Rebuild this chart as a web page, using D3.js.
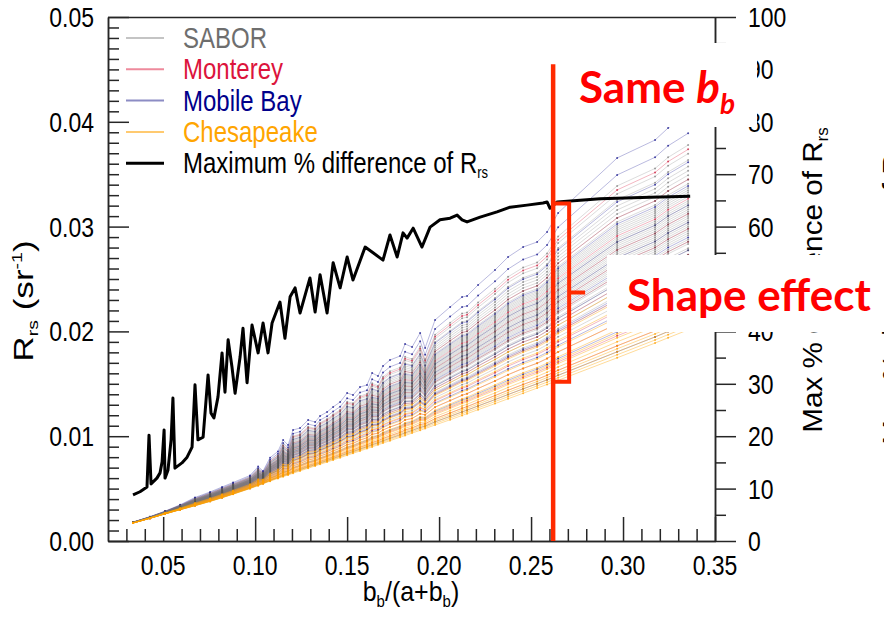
<!DOCTYPE html>
<html>
<head>
<meta charset="utf-8">
<script src="https://cdn.jsdelivr.net/npm/d3@7"></script>
<style>
  html, body { margin: 0; padding: 0; background: #fff; }
  svg { display: block; font-family: "Liberation Sans", Arial, Helvetica, sans-serif; }
</style>
</head>
<body>
<svg id="chart" width="884" height="620"></svg>
<script>
// bb/(a+bb) values at which every spectrum is sampled
const uNodes = [
  0.0336, 0.0428, 0.0510, 0.0592, 0.0673, 0.0755, 0.0820, 0.0880, 0.0972, 0.1016,
  0.1043, 0.1081, 0.1124, 0.1152, 0.1179, 0.1206, 0.1244, 0.1288, 0.1326, 0.1353,
  0.1391, 0.1424, 0.1462, 0.1500, 0.1532, 0.1570, 0.1608, 0.1636, 0.1668, 0.1695,
  0.1733, 0.1788, 0.1815, 0.1853, 0.1897, 0.1924, 0.1978, 0.2060, 0.2125, 0.2152,
  0.2212, 0.2304, 0.2375, 0.2457, 0.2533, 0.2587, 0.2647, 0.2968, 0.3174, 0.3245,
  0.3354
];
// lowest Rrs (sr^-1) reached at each node
const rrsLow = [
  0.00171, 0.00216, 0.00258, 0.00298, 0.00336, 0.00377, 0.00412, 0.00446, 0.00500, 0.00528,
  0.00546, 0.00571, 0.00597, 0.00614, 0.00630, 0.00647, 0.00669, 0.00694, 0.00716, 0.00732,
  0.00753, 0.00773, 0.00795, 0.00818, 0.00837, 0.00859, 0.00882, 0.00898, 0.00918, 0.00934,
  0.00957, 0.00990, 0.01006, 0.01030, 0.01056, 0.01073, 0.01107, 0.01157, 0.01198, 0.01215,
  0.01253, 0.01311, 0.01357, 0.01410, 0.01459, 0.01494, 0.01533, 0.01748, 0.01889, 0.01939,
  0.02015
];
// highest Rrs (sr^-1) reached at each node
const rrsHigh = [
  0.00181, 0.00232, 0.00285, 0.00345, 0.00415, 0.00468, 0.00515, 0.00558, 0.00625, 0.00710,
  0.00668, 0.00795, 0.00855, 0.00964, 0.00916, 0.01059, 0.01078, 0.01155, 0.01135, 0.01193,
  0.01231, 0.01279, 0.01326, 0.01412, 0.01393, 0.01469, 0.01489, 0.01603, 0.01574, 0.01670,
  0.01727, 0.01765, 0.01880, 0.01851, 0.01985, 0.01842, 0.02109, 0.02233, 0.02328, 0.02338,
  0.02443, 0.02586, 0.02710, 0.02805, 0.02853, 0.02948, 0.03130, 0.03655, 0.03826, 0.03941,
  0.04065
];

// position of each particle population between the low (0) and high (1) Rrs curves
const saborSpread = [
  0.26, 0.29, 0.31, 0.33, 0.35, 0.37, 0.38, 0.40, 0.41, 0.42,
  0.44, 0.45, 0.46, 0.47, 0.48, 0.49, 0.50, 0.51, 0.52, 0.53,
  0.54, 0.55, 0.56, 0.57, 0.58, 0.59, 0.60, 0.62, 0.63, 0.64,
  0.65, 0.66, 0.68, 0.70, 0.72, 0.74, 0.76, 0.79, 0.82, 0.86
];
const montereySpread = [0.06, 0.11, 0.17, 0.23, 0.29, 0.35, 0.41, 0.47, 0.54, 0.61, 0.70, 0.84];
const mobileBaySpread = [0.03, 0.13, 0.21, 0.30, 0.37, 0.43, 0.50, 0.58, 0.67, 0.78, 0.915, 1.0];
const chesapeakeSpread = [0.0, 0.015, 0.03, 0.045, 0.06, 0.08, 0.10, 0.12, 0.14, 0.17, 0.20, 0.24, 0.28, 0.33];

// maximum % difference of Rrs across populations
const maxDiffU = [
  0.0336, 0.0374, 0.0412, 0.0423, 0.0434, 0.0466, 0.0483, 0.0494, 0.0505, 0.0510,
  0.0526, 0.0543, 0.0553, 0.0564, 0.0602, 0.0630, 0.0657, 0.0673, 0.0689, 0.0717,
  0.0744, 0.0760, 0.0776, 0.0798, 0.0820, 0.0836, 0.0853, 0.0874, 0.0891, 0.0918,
  0.0934, 0.0956, 0.0983, 0.1016, 0.1043, 0.1070, 0.1092, 0.1135, 0.1162, 0.1190,
  0.1217, 0.1244, 0.1298, 0.1326, 0.1353, 0.1391, 0.1424, 0.1462, 0.1500, 0.1532,
  0.1598, 0.1641, 0.1695, 0.1733, 0.1772, 0.1804, 0.1826, 0.1859, 0.1907, 0.1951,
  0.2005, 0.2060, 0.2098, 0.2125, 0.2152, 0.2223, 0.2315, 0.2386, 0.2478, 0.2565,
  0.2587, 0.2603, 0.2642, 0.2875, 0.3147, 0.3365
];
const maxDiffPct = [
  8.8, 9.4, 10.3, 20.2, 10.9, 12.0, 13.0, 15.1, 21.2, 12.0,
  13.5, 19.3, 27.3, 13.9, 14.9, 16.0, 17.9, 29.8, 19.3, 19.8,
  31.7, 24.4, 23.5, 27.5, 35.9, 28.4, 38.4, 33.2, 28.2, 35.1,
  40.6, 30.2, 41.2, 35.9, 41.6, 35.9, 41.6, 45.6, 38.7, 46.6,
  48.3, 43.5, 50.2, 43.7, 50.8, 43.5, 53.1, 48.3, 54.2, 49.8,
  56.1, 55.0, 53.6, 58.4, 54.2, 58.8, 57.8, 59.7, 56.1, 59.9,
  61.3, 61.6, 62.2, 61.3, 60.9, 61.8, 62.8, 63.7, 64.1, 64.5,
  64.7, 63.5, 64.7, 65.3, 65.6, 65.8
];

// axis ticks
const xTicks = [0.05, 0.10, 0.15, 0.20, 0.25, 0.30, 0.35];
const xTickLabels = ["0.05", "0.10", "0.15", "0.20", "0.25", "0.30", "0.35"];
const yTicks = [0.00, 0.01, 0.02, 0.03, 0.04, 0.05];
const yTickLabels = ["0.00", "0.01", "0.02", "0.03", "0.04", "0.05"];
const y2Ticks = [0, 10, 20, 30, 40, 50, 60, 70, 80, 90, 100];
const y2TickLabels = ["0", "10", "20", "30", "40", "50", "60", "70", "80", "90", "100"];

// annotation: the common bb/(a+bb) and the Rrs range it spans
const sameBbU = 0.262;
const sameBbTop = 0.0455;
const bracketRrs = [0.0152, 0.0322];

const svg = d3.select("#chart");
const x = d3.scaleLinear().domain([0.02, 0.35]).range([108, 715]);
const y = d3.scaleLinear().domain([0, 0.05]).range([541, 17]);
const y2 = d3.scaleLinear().domain([0, 100]).range([541, 17]);

// ---------- axes ----------
const axisColor = "#262626";
const axG = svg.append("g");
function drawAxis(gen, tx, ty) {
  const g = axG.append("g").attr("transform", `translate(${tx},${ty})`).call(gen);
  g.selectAll("path, line").attr("stroke", axisColor).attr("stroke-width", 1.5);
  g.selectAll("text").remove();
  return g;
}
const xMinor = d3.range(3, 35).filter(i => i % 5 !== 0).map(i => i / 100);
const yMinor = d3.range(1, 50).filter(i => i % 10 !== 0).map(i => i / 1000);
const y2Minor = d3.range(5, 100, 10);

drawAxis(d3.axisBottom(x).tickValues(xTicks).tickSizeInner(-24).tickSizeOuter(0), 0, 541);
drawAxis(d3.axisBottom(x).tickValues(xMinor).tickSizeInner(-12).tickSizeOuter(0), 0, 541);
drawAxis(d3.axisLeft(y).tickValues(yTicks).tickSizeInner(-21).tickSizeOuter(0), 108, 0);
drawAxis(d3.axisLeft(y).tickValues(yMinor).tickSizeInner(-11).tickSizeOuter(0), 108, 0);
drawAxis(d3.axisRight(y2).tickValues(y2Ticks).tickSizeInner(21).tickSizeOuter(0), 715, 0);
drawAxis(d3.axisRight(y2).tickValues(y2Minor).tickSizeInner(11).tickSizeOuter(0), 715, 0);
axG.append("line")
  .attr("x1", x.range()[0]).attr("x2", x.range()[1])
  .attr("y1", y(0.05) + 0.5).attr("y2", y(0.05) + 0.5)
  .attr("stroke", axisColor).attr("stroke-width", 1.5);

// text helper: stretched labels
function label(parent, px, py, str, o) {
  return parent.append("text")
    .attr("transform", `translate(${px},${py}) scale(${o.sx || 1},${o.sy || 1})`)
    .attr("text-anchor", o.anchor || "start")
    .attr("font-size", o.size)
    .attr("fill", o.fill || "#000")
    .text(str);
}

const lbl = svg.append("g");
xTicks.forEach((v, i) => label(lbl, x(v), 575, xTickLabels[i], { anchor: "middle", size: 23, sy: 1.2 }));
yTicks.forEach((v, i) => label(lbl, 94, y(v) + 10, yTickLabels[i], { anchor: "end", size: 23, sy: 1.2 }));
y2Ticks.forEach((v, i) => label(lbl, 748, y2(v) + 10, y2TickLabels[i], { anchor: "start", size: 23, sy: 1.2 }));

// x axis title
const xt = label(lbl, 411, 601, "", { anchor: "middle", size: 25, sy: 1.1 });
xt.append("tspan").text("b");
xt.append("tspan").attr("font-size", 15).attr("dy", 5).text("b");
xt.append("tspan").attr("dy", -5).text("/(a+b");
xt.append("tspan").attr("font-size", 15).attr("dy", 5).text("b");
xt.append("tspan").attr("dy", -5).text(")");

// left title
const yt = lbl.append("text")
  .attr("transform", "translate(33,301) rotate(-90) scale(1.3,1)")
  .attr("text-anchor", "middle").attr("font-size", 27);
yt.append("tspan").text("R");
yt.append("tspan").attr("font-size", 15).attr("dy", 5).text("rs");
yt.append("tspan").attr("dy", -5).text(" (sr");
yt.append("tspan").attr("font-size", 15).attr("dy", -11).text("-1");
yt.append("tspan").attr("dy", 11).text(")");

// right title (and the neighbouring panel's title at the edge)
[[822, 280], [902, 292]].forEach(([tx, ty]) => {
  const rt = lbl.append("text")
    .attr("transform", `translate(${tx},${ty}) rotate(-90) scale(1.06,1)`)
    .attr("text-anchor", "middle").attr("font-size", 28);
  rt.append("tspan").text("Max % difference of R");
  rt.append("tspan").attr("font-size", 16).attr("dy", 6).text("rs");
});

// ---------- spectra ----------
const groups = {
  sabor: { spread: saborSpread, stroke: "#767676", so: 0.33, dot: "#555555", dop: 0.55, legendLine: "#c4c4c4", legendText: "#6e6e6e" },
  monterey: { spread: montereySpread, stroke: "#dc2848", so: 0.42, dot: "#c81838", dop: 0.75, legendLine: "#ee8a9c", legendText: "#dc143c" },
  mobile: { spread: mobileBaySpread, stroke: "#1c1c96", so: 0.38, dot: "#10108a", dop: 0.75, legendLine: "#8c8cc4", legendText: "#00008b" },
  chesapeake: { spread: chesapeakeSpread, stroke: "#ffa500", so: 0.5, dot: "#ff9f00", dop: 0.75, legendLine: "#ffca70", legendText: "#ffa500" }
};

const lineGen = d3.line().x(d => x(d[0])).y(d => y(d[1]));
const dataG = svg.append("g");
// coloured sites first, the grey SABOR cloud over them, Chesapeake along the bottom
["monterey", "mobile", "sabor", "chesapeake"].forEach(key => {
  const g = groups[key];
  const gg = dataG.append("g");
  g.spread.forEach(w => {
    const pts = uNodes.map((u, i) => [u, rrsLow[i] + w * (rrsHigh[i] - rrsLow[i])]);
    gg.append("path")
      .attr("d", lineGen(pts))
      .attr("fill", "none")
      .attr("stroke", g.stroke)
      .attr("stroke-opacity", g.so)
      .attr("stroke-width", 0.8);
    gg.selectAll(null).data(pts).join("circle")
      .attr("cx", d => x(d[0])).attr("cy", d => y(d[1]))
      .attr("r", 1.0)
      .attr("fill", g.dot).attr("fill-opacity", g.dop);
  });
});

// max % difference curve
dataG.append("path")
  .attr("d", d3.line().x((d, i) => x(maxDiffU[i])).y(d => y2(d))(maxDiffPct))
  .attr("fill", "none").attr("stroke", "#000").attr("stroke-width", 3)
  .attr("stroke-linejoin", "round");

// ---------- legend ----------
const leg = svg.append("g");
const legRows = [
  { text: "SABOR", line: groups.sabor.legendLine, color: groups.sabor.legendText, w: 2 },
  { text: "Monterey", line: groups.monterey.legendLine, color: groups.monterey.legendText, w: 2 },
  { text: "Mobile Bay", line: groups.mobile.legendLine, color: groups.mobile.legendText, w: 2 },
  { text: "Chesapeake", line: groups.chesapeake.legendLine, color: groups.chesapeake.legendText, w: 2 },
  { text: "Maximum % difference of R", line: "#000", color: "#000", w: 3, sub: "rs" }
];
legRows.forEach((r, i) => {
  const by = 48 + i * 31.3;
  leg.append("line").attr("x1", 126).attr("x2", 164).attr("y1", by - 10).attr("y2", by - 10)
    .attr("stroke", r.line).attr("stroke-width", r.w);
  const t = label(leg, 183, by, r.text, { size: 24, sy: 1.2, fill: r.color });
  if (r.sub) t.append("tspan").attr("font-size", 13).attr("dy", 4).text(r.sub);
});

// ---------- annotation ----------
const ann = svg.append("g");
ann.append("rect").attr("x", 575).attr("y", 43).attr("width", 182).attr("height", 84).attr("fill", "#fff");
ann.append("rect").attr("x", 607).attr("y", 255).attr("width", 277).attr("height", 77).attr("fill", "#fff");

const red = "#ff2a00";
const xs = x(sameBbU);
ann.append("line").attr("x1", xs).attr("x2", xs).attr("y1", y(sameBbTop)).attr("y2", y(0))
  .attr("stroke", red).attr("stroke-width", 4.5);
ann.append("path")
  .attr("d", `M${xs},${y(bracketRrs[1])}H${xs + 16}V${y(bracketRrs[0])}H${xs}` +
             `M${xs + 16},${y((bracketRrs[0] + bracketRrs[1]) / 2)}H${xs + 32}`)
  .attr("fill", "none").attr("stroke", red).attr("stroke-width", 4);

const st = ann.append("text").attr("x", 579).attr("y", 103)
  .attr("font-family", "Lato, 'Open Sans', sans-serif").attr("font-weight", 700)
  .attr("font-size", 44).attr("fill", "#ff0000");
st.append("tspan").text("Same ");
st.append("tspan").attr("font-style", "italic").text("b");
st.append("tspan").attr("font-style", "italic").attr("font-size", 28).attr("dy", 11).text("b");

ann.append("text").attr("x", 627).attr("y", 311)
  .attr("font-family", "Lato, 'Open Sans', sans-serif").attr("font-weight", 700)
  .attr("font-size", 44).attr("fill", "#ff0000").text("Shape effect");
</script>
</body>
</html>
